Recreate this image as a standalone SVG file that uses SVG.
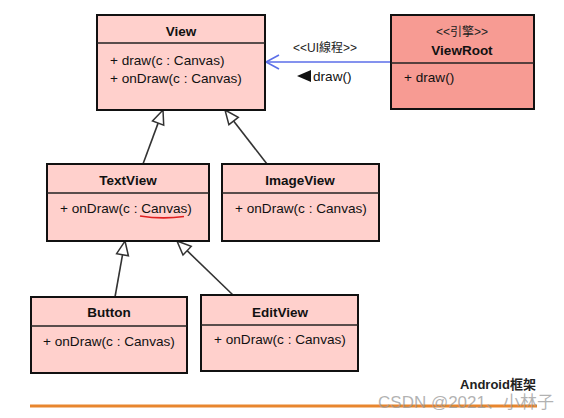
<svg xmlns="http://www.w3.org/2000/svg" width="564" height="418" viewBox="0 0 564 418">
<style>
.box{fill:#FFD0CC;stroke:#111;stroke-width:2}
.root{fill:#F79B93;stroke:#111;stroke-width:2}
.div{stroke:#222;stroke-width:1.3}
.t{font-family:"Liberation Sans",Arial,sans-serif;font-size:13.5px;font-weight:bold;fill:#111;text-anchor:middle}
.m{font-family:"Liberation Sans",Arial,sans-serif;font-size:13.6px;fill:#111}
.s{font-family:"Liberation Sans","Noto Sans CJK TC",sans-serif;font-size:12px;fill:#222}
.gen{stroke:#333;stroke-width:1.6;fill:none}
.tri{fill:#fff;stroke:#333;stroke-width:1.5}
</style>
<rect width="564" height="418" fill="#fff"/>
<g id="connectors">
  <line x1="391" y1="62" x2="266" y2="62" stroke="#5B6EE8" stroke-width="1.6"/>
  <polyline points="279,55 266,62 279,69" fill="none" stroke="#5B6EE8" stroke-width="1.6"/>
  <text class="s" x="325" y="52" text-anchor="middle" font-size="13">&lt;&lt;UI線程&gt;&gt;</text>
  <polygon points="297,76 311,70 311,82" fill="#111"/>
  <text class="m" x="313" y="81" font-size="14">draw()</text>
  <line class="gen" x1="143" y1="164" x2="158.1" y2="123.1"/>
  <polygon class="tri" points="163,110 163.7,125.2 152.5,121"/>
  <line class="gen" x1="267" y1="164" x2="233.6" y2="121"/>
  <polygon class="tri" points="225,110 238.3,117.4 228.9,124.7"/>
  <line class="gen" x1="115" y1="297" x2="122.5" y2="254.8"/>
  <polygon class="tri" points="125,241 128.4,255.8 116.6,253.7"/>
  <line class="gen" x1="233" y1="295" x2="187.1" y2="250.7"/>
  <polygon class="tri" points="177,241 191.2,246.4 183,255"/>
</g>
<g id="View">
  <rect class="box" x="97" y="15" width="168" height="95"/>
  <line class="div" x1="97" y1="43" x2="265" y2="43"/>
  <text class="t" x="181" y="36">View</text>
  <text class="m" x="110" y="65">+ draw(c : Canvas)</text>
  <text class="m" x="110" y="83">+ onDraw(c : Canvas)</text>
</g>
<g id="ViewRoot">
  <rect class="root" x="391" y="15" width="143" height="94"/>
  <line class="div" x1="391" y1="63" x2="534" y2="63"/>
  <text class="s" x="462" y="36" text-anchor="middle">&lt;&lt;引擎&gt;&gt;</text>
  <text class="t" x="462" y="55">ViewRoot</text>
  <text class="m" x="404" y="82">+ draw()</text>
</g>
<g id="TextView">
  <rect class="box" x="47" y="164" width="162" height="77"/>
  <line class="div" x1="47" y1="193" x2="209" y2="193"/>
  <text class="t" x="128" y="185">TextView</text>
  <text class="m" x="60" y="213">+ onDraw(c : Canvas)</text>
  <path d="M140,216 Q162,219.5 184,216.5" fill="none" stroke="#E02020" stroke-width="1.6"/>
</g>
<g id="ImageView">
  <rect class="box" x="222" y="164" width="157" height="77"/>
  <line class="div" x1="222" y1="193" x2="379" y2="193"/>
  <text class="t" x="300" y="185">ImageView</text>
  <text class="m" x="235" y="213">+ onDraw(c : Canvas)</text>
</g>
<g id="Button">
  <rect class="box" x="31" y="297" width="156" height="76"/>
  <line class="div" x1="31" y1="326" x2="187" y2="326"/>
  <text class="t" x="109" y="317">Button</text>
  <text class="m" x="43" y="346">+ onDraw(c : Canvas)</text>
</g>
<g id="EditView">
  <rect class="box" x="201" y="295" width="157" height="76"/>
  <line class="div" x1="201" y1="325" x2="358" y2="325"/>
  <text class="t" x="280" y="317">EditView</text>
  <text class="m" x="214" y="344">+ onDraw(c : Canvas)</text>
</g>
<g id="footer">
  <line x1="30" y1="406" x2="537" y2="406" stroke="#E8862E" stroke-width="3"/>
  <text x="498" y="389" text-anchor="middle" font-family="'Liberation Sans','Noto Sans CJK SC',sans-serif" font-size="13" font-weight="bold" fill="#222">Android框架</text>
  <text x="466" y="408" text-anchor="middle" font-family="'Liberation Sans','Noto Sans CJK SC',sans-serif" font-size="17" fill="#999" fill-opacity="0.75">CSDN @2021、小林子</text>
</g>
</svg>
